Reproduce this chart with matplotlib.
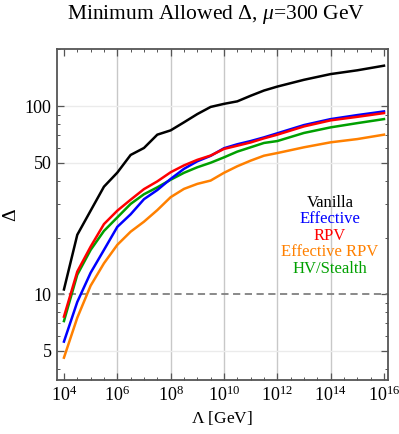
import numpy as np
import matplotlib
matplotlib.use("Agg")
import matplotlib.pyplot as plt
from matplotlib.ticker import FixedLocator, FixedFormatter, NullFormatter, LogLocator

plt.rcParams['font.family'] = ['Liberation Serif', 'DejaVu Serif']
plt.rcParams['mathtext.fontset'] = 'custom'
plt.rcParams['mathtext.rm'] = 'Liberation Serif'
plt.rcParams['mathtext.it'] = 'Liberation Serif:italic'

# log10(Lambda / GeV)
log_lam = [4, 4.5, 5, 5.5, 6, 6.5, 7, 7.5, 8, 8.5, 9, 9.5, 10, 10.5, 11, 11.5, 12, 13, 14, 15, 16]

vanilla = [10.6, 20.7, 27.8, 37.3, 44.3, 55, 59.9, 70.5, 74.3, 82, 90.7, 99, 102.8, 106, 113.5, 121, 127, 138, 148, 155, 164]
effective = [5.6, 9.1, 13.0, 17.2, 22.8, 26.6, 32.0, 35.8, 41, 46.4, 50.9, 54.4, 59.7, 62.7, 65.2, 68.2, 71.7, 79.3, 85.3, 89.6, 93.7]
rpv = [7.6, 13.2, 17.9, 23.6, 27.8, 31.8, 36.2, 39.8, 44.5, 48.4, 51.8, 54.6, 59.2, 61.6, 64.1, 67.4, 70.5, 78, 84, 87.7, 91.8]
eff_rpv = [4.6, 7.5, 11.1, 14.6, 18.3, 21.5, 24.3, 28, 32.8, 36.3, 38.6, 40.2, 44.2, 47.9, 51.3, 54.5, 56.3, 60.4, 64.2, 66.8, 70.5]
hv_stealth = [7.2, 12.7, 17.2, 21.7, 25.6, 30.2, 34.0, 37, 40.6, 44.2, 47.3, 50, 53.4, 57.3, 60.4, 63.7, 65.2, 72, 77.1, 81.2, 85.3]

names = ["Vanilla", "Effective", "RPV", "Effective RPV", "HV/Stealth"]
colors = ["black", "#0000ff", "#ff0000", "#ff8000", "#00a000"]
series = [vanilla, effective, rpv, eff_rpv, hv_stealth]

lam = [10.0 ** v for v in log_lam]

fig = plt.figure(figsize=(3.99, 4.34), dpi=100)
ax = fig.add_axes([0.1429, 0.1244, 0.8295, 0.7616])

ax.set_xscale('log')
ax.set_yscale('log')
ax.set_xlim(10 ** 3.74, 10 ** 16.15)
ax.set_ylim(3.5, 200)

# grid
for e in [6, 8, 10, 12, 14]:
    ax.axvline(10.0 ** e, color='#c8c8c8', lw=1.0, zorder=1)
for v in [5, 50, 100]:
    ax.axhline(v, color='#ebebeb', lw=1.0, zorder=1)
ax.axhline(10, color='#808080', lw=1.3, ls=(0, (4, 2.5)), zorder=2)

# draw order: orange, green, blue, red, black
for i in [3, 4, 1, 2, 0]:
    ax.plot(lam, series[i], color=colors[i], lw=1.8, zorder=3)

# ticks
major_x = [10.0 ** e for e in range(4, 17, 2)]
ax.xaxis.set_major_locator(FixedLocator(major_x))
ax.xaxis.set_major_formatter(FixedFormatter([r'$10^{%d}$' % e for e in range(4, 17, 2)]))
minor_x = [10.0 ** (e / 2) for e in range(8, 33) if e % 4 != 0]
ax.xaxis.set_minor_locator(FixedLocator(minor_x))
ax.xaxis.set_minor_formatter(NullFormatter())

ax.yaxis.set_major_locator(FixedLocator([5, 10, 50, 100]))
ax.yaxis.set_major_formatter(FixedFormatter(['5', '10', '50', '100']))
ax.yaxis.set_minor_locator(LogLocator(base=10, subs=np.arange(1, 10)))
ax.yaxis.set_minor_formatter(NullFormatter())

ax.tick_params(which='both', direction='in', top=True, right=True, color='#555555')
ax.tick_params(which='major', length=5, width=0.9, labelsize=13, pad=4)
ax.tick_params(which='minor', length=2.5, width=0.7)
for s in ax.spines.values():
    s.set_color('#555555')
    s.set_linewidth(1.3)

ax.set_xlabel(r'$\Lambda$ [GeV]', fontsize=12.5, labelpad=3)
fig.text(0.027, 0.505, 'Δ', rotation=90, fontsize=14, ha='center', va='center')

fig.text(0.541, 0.966, r'Minimum Allowed Δ, $\mathit{\mu}$=300 GeV', fontsize=15.5, ha='center', va='center')

# legend text block
leg_y = [0.536, 0.486, 0.436, 0.386, 0.336]
for name, c, yy in zip(names, colors, leg_y):
    ax.text(0.825, yy, name, color=c, fontsize=12, ha='center', va='center', transform=ax.transAxes)

fig.savefig('out.png', dpi=100)
